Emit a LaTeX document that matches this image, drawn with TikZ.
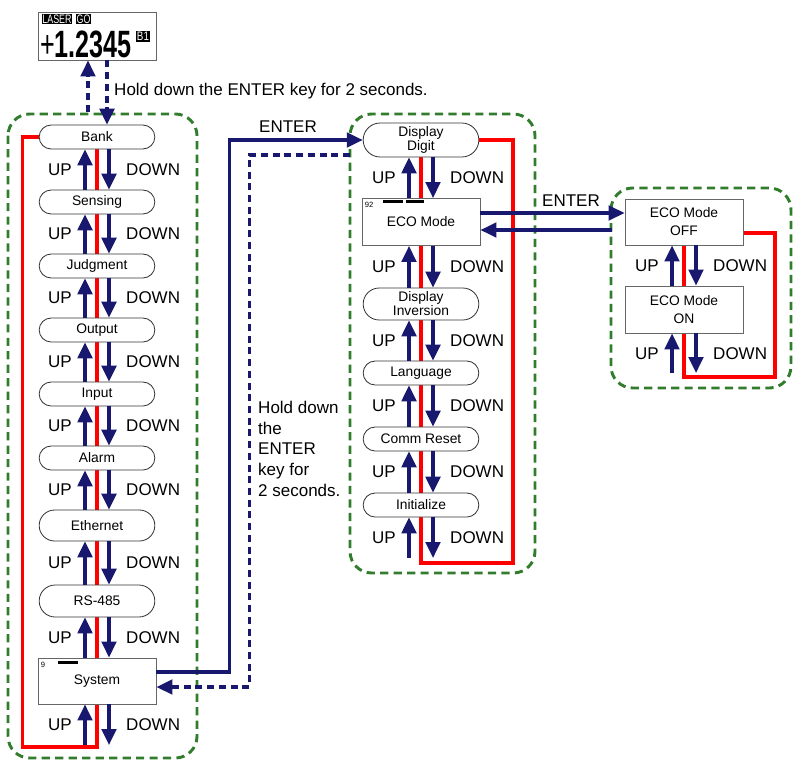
\documentclass[tikz,border=0pt]{standalone}
\usepackage{fontspec}
\setmainfont{Liberation Sans}
\usetikzlibrary{arrows.meta,calc,shapes.misc,backgrounds}

\definecolor{navy}{RGB}{24,24,110}
\definecolor{menugreen}{RGB}{50,125,45}
\definecolor{loopred}{RGB}{255,0,0}

\begin{document}
\begin{tikzpicture}[
  x=0.03cm,
  y=-0.03cm,
  line join=miter,
  menu/.style={
    rounded rectangle,
    draw=black!80,
    fill=white,
    line width=0.7pt,
    minimum width=3.54cm,
    minimum height=0.72cm,
    inner sep=1pt,
    align=center,
    font=\fontsize{11.8}{12}\selectfont
  },
  panel/.style={
    rectangle,
    draw=black!60,
    fill=white,
    line width=0.8pt,
    minimum width=3.54cm,
    minimum height=1.38cm,
    inner sep=1pt,
    align=center,
    font=\fontsize{11.8}{15.3}\selectfont
  },
  keyarrow/.style={
    navy,
    line width=2.8pt,
    -{Triangle[length=0.48cm,width=0.44cm]}
  },
  keydash/.style={
    keyarrow,
    dash pattern=on 6pt off 4pt
  },
  redloop/.style={loopred, line width=2.8pt},
  menubox/.style={
    menugreen,
    line width=2.5pt,
    dash pattern=on 7pt off 4.5pt,
    rounded corners=0.65cm
  },
  lbl/.style={inner sep=0pt, font=\fontsize{14.5}{17.6}\selectfont},
  tag/.style={
    fill=black,
    text=white,
    inner sep=0.7pt,
    font=\fontsize{10.5}{10.5}\selectfont
  },
  tiny/.style={inner sep=0pt, font=\fontsize{6.5}{7}\selectfont}
]
  \useasboundingbox (0,0) rectangle (793,762);

  % Anzeige oben
  \node[panel, minimum height=1.44cm] (display) at (97,36) {};
  \node[tag] (laser) at (57,19) {\scalebox{0.72}[1]{LASER}};
  \node[tag] (go) at (83.5,19) {\scalebox{0.72}[1]{GO}};
  \node[tag] (bone) at (143,36.5) {\scalebox{0.8}[1]{B1}};
  \node[anchor=base west, inner sep=0pt] (value) at (40,57.5)
    {\fontsize{32.5}{32.5}\selectfont\scalebox{0.66}[1]{+\textbf{1.2345}}};

  % Linke Spalte
  \node[menu] (bank) at (97,137) {Bank};
  \node[menu] (sensing) at (97,202) {Sensing};
  \node[menu] (judgment) at (97,266) {Judgment};
  \node[menu] (output) at (97,330) {Output};
  \node[menu] (input) at (97,394) {Input};
  \node[menu] (alarm) at (97,458) {Alarm};
  \node[menu, minimum height=0.93cm] (ethernet) at (97,525.5) {Ethernet};
  \node[menu, minimum height=0.96cm] (rsbus) at (97,601) {RS-485};
  \node[panel] (system) at (97,681) {System};

  \node[tiny, anchor=north west] at ($(system.north west)+(3,4)$) {9};
  \fill ($(system.north west)+(20,3)$) rectangle +(20,3);

  % Mittlere Spalte
  \node[menu, minimum height=1.02cm] (dispdigit) at (421,140)
    {Display\\Digit};
  \node[panel, minimum height=1.41cm] (ecomode) at (421,222) {ECO Mode};
  \node[menu, minimum height=0.96cm] (dispinv) at (421,304)
    {Display\\Inversion};
  \node[menu] (language) at (421,373) {Language};
  \node[menu] (commreset) at (421,439) {Comm Reset};
  \node[menu] (initialize) at (421,505) {Initialize};

  \node[tiny, anchor=north west] at ($(ecomode.north west)+(3,4)$) {92};
  \fill ($(ecomode.north west)+(21,2)$) rectangle +(20,3);
  \fill ($(ecomode.north west)+(44,2)$) rectangle +(18,3);

  % Rechte Spalte
  \node[panel] (ecooff) at (684,222) {ECO Mode\\OFF};
  \node[panel, minimum height=1.41cm] (ecoon) at (684,309.5) {ECO Mode\\ON};

  % Rahmen und rote Schleifen
  \begin{scope}[on background layer]
    \draw[menubox] (8,114) rectangle (197,758);
    \draw[menubox] (350,114) rectangle (535,573);
    \draw[menubox] (611,188) rectangle (791,388);

    \draw[redloop]
      (bank.west) -- ++(-16,0) |- (97,747) -- (bank.center);
    \draw[redloop]
      (dispdigit.east) -| (513,563) -| (dispdigit.center);
    \draw[redloop]
      ($(ecooff.east)+(0,11)$) -| (775,377) -| (ecooff.center);
  \end{scope}

  % UP / DOWN
  \foreach \a/\b in {bank/sensing, sensing/judgment, judgment/output,
      output/input, input/alarm, alarm/ethernet, ethernet/rsbus,
      rsbus/system, dispdigit/ecomode, ecomode/dispinv,
      dispinv/language, language/commreset, commreset/initialize,
      ecooff/ecoon}{
    \draw[keyarrow] ($(\b.north)+(-12,0)$) -- ($(\a.south)+(-12,0)$);
    \draw[keyarrow] ($(\a.south)+(12,0)$) -- ($(\b.north)+(12,0)$);
    \node[lbl, anchor=east] at ($(\a.south)!0.5!(\b.north)+(-25,0)$) {UP};
    \node[lbl, anchor=west] at ($(\a.south)!0.5!(\b.north)+(29,0)$) {DOWN};
  }

  \coordinate (sysend) at (97,745);
  \coordinate (initend) at (421,558);
  \coordinate (onend) at (684,373);
  \foreach \a/\e in {system/sysend, initialize/initend, ecoon/onend}{
    \draw[keyarrow] ($(\e)+(-12,0)$) -- ($(\a.south)+(-12,0)$);
    \draw[keyarrow] ($(\a.south)+(12,0)$) -- ($(\e)+(12,0)$);
    \node[lbl, anchor=east] at ($(\a.south)!0.5!(\e)+(-25,0)$) {UP};
    \node[lbl, anchor=west] at ($(\a.south)!0.5!(\e)+(29,0)$) {DOWN};
  }

  % Anzeige <-> Bank
  \draw[keydash] ($(bank.north)+(-9,-13)$) -- ($(display.south)+(-9,0)$);
  \draw[keydash] ($(display.south)+(10,0)$) -- ($(bank.north)+(10,0)$);
  \node[lbl, anchor=west] (holdtop) at (114,91)
    {Hold down the ENTER key for 2 seconds.};

  % System <-> Display Digit
  \draw[keyarrow]
    ($(system.east)+(0,-9)$) -| ($(dispdigit.west)+(-133,0)$)
    -- (dispdigit.west);
  \node[lbl] (enterone) at (288,127) {ENTER};

  \coordinate (holdstart) at (350,155);
  \draw[keydash]
    (holdstart) -| ($(system.east)+(93,6)$) -- ($(system.east)+(0,6)$);
  \node[lbl, anchor=north west, align=left] (holdmid) at (258,401)
    {Hold down\\the\\ENTER\\key for\\2 seconds.};

  % ECO Mode <-> ECO Mode OFF
  \draw[keyarrow] ($(ecomode.east)+(0,-9)$) -- ($(ecooff.west)+(0,-9)$);
  \coordinate (ecoback) at (612,230);
  \draw[keyarrow] (ecoback) -- (ecoback -| ecomode.east);
  \node[lbl] (entertwo) at (571,201) {ENTER};
\end{tikzpicture}
\end{document}
